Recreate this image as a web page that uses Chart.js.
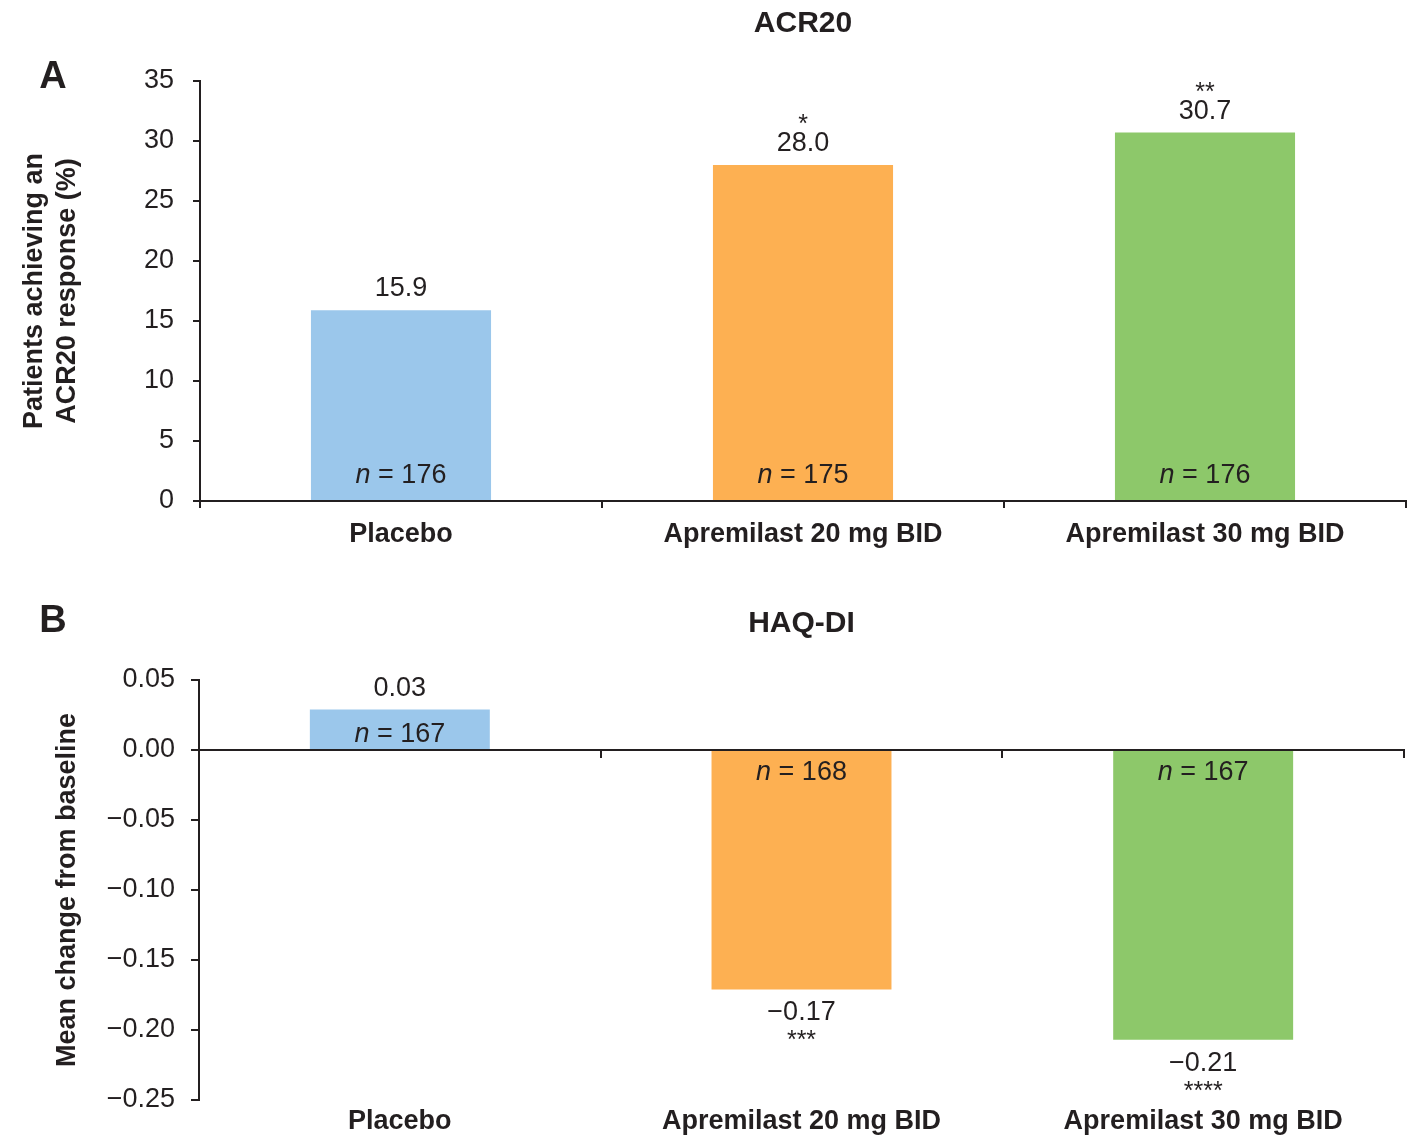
<!DOCTYPE html>
<html>
<head>
<meta charset="utf-8">
<script src="https://cdn.jsdelivr.net/npm/chart.js@4.4.1/dist/chart.umd.min.js"></script>
<style>
html,body{margin:0;padding:0;background:#ffffff;}
#wrap{position:relative;width:1422px;height:1136px;overflow:hidden;}
canvas{position:absolute;left:0;display:block;}
#c1{top:0;}
#c2{top:560px;}
</style>
</head>
<body>
<div id="wrap">
<canvas id="c1" width="1422" height="560"></canvas>
<canvas id="c2" width="1422" height="576"></canvas>
</div>
<script>
// ---- data ----
const categories = ['Placebo', 'Apremilast 20 mg BID', 'Apremilast 30 mg BID'];
const barColors = ['#9BC7EB', '#FDB052', '#8DC86A'];

const acrValues = [15.9, 28.0, 30.7];
const acrLabels = ['15.9', '28.0', '30.7'];
const acrStars = ['', '*', '**'];
const acrN = [176, 175, 176];

const haqValues = [0.029, -0.171, -0.207];
const haqLabels = ['0.03', '\u22120.17', '\u22120.21'];
const haqStars = ['', '***', '****'];
const haqN = [167, 168, 167];

// ---- style ----
const FAM = '"Liberation Sans", Arial, Helvetica, sans-serif';
const INK = '#231F20';

function drawN(ctx, cx, baseline, n) {
  const f1 = 'italic 27px ' + FAM, f2 = '27px ' + FAM;
  ctx.font = f1; const w1 = ctx.measureText('n').width;
  const rest = ' = ' + n;
  ctx.font = f2; const w2 = ctx.measureText(rest).width;
  const x = cx - (w1 + w2) / 2;
  ctx.textAlign = 'left';
  ctx.textBaseline = 'alphabetic';
  ctx.fillStyle = INK;
  ctx.font = f1; ctx.fillText('n', x, baseline);
  ctx.font = f2; ctx.fillText(rest, x + w1, baseline);
}

function makeLabelPlugin(o) {
  return {
    id: 'barLabels_' + o.letter,
    afterDraw(chart) {
      const ctx = chart.ctx;
      const meta = chart.getDatasetMeta(0);
      const zero = chart.scales.y.getPixelForValue(0);
      ctx.save();
      ctx.fillStyle = INK;
      meta.data.forEach((bar, i) => {
        const v = o.values[i];
        const x = bar.x;
        ctx.textAlign = 'center';
        ctx.textBaseline = 'alphabetic';
        if (v >= 0) {
          const vb = bar.y - o.upGap;
          ctx.font = '27px ' + FAM;
          ctx.fillText(o.labels[i], x, vb);
          if (o.stars[i]) { ctx.font = '25px ' + FAM; ctx.fillText(o.stars[i], x, vb - 19); }
          drawN(ctx, x, zero - o.nUp, o.ns[i]);
        } else {
          const vb = bar.y + 31;
          ctx.font = '27px ' + FAM;
          ctx.fillText(o.labels[i], x, vb);
          if (o.stars[i]) { ctx.font = '25px ' + FAM; ctx.fillText(o.stars[i], x, vb + 28); }
          drawN(ctx, x, zero + 30, o.ns[i]);
        }
      });
      // panel letter
      ctx.font = 'bold 38px ' + FAM;
      ctx.textAlign = 'center';
      ctx.textBaseline = 'alphabetic';
      ctx.fillText(o.letter, 53, o.letterY);
      ctx.restore();
    }
  };
}

const tickFont = { family: FAM, size: 27 };
const catFont = { family: FAM, size: 27, weight: 'bold' };

// ---- Panel A ----
new Chart(document.getElementById('c1'), {
  type: 'bar',
  data: {
    labels: categories,
    datasets: [{ data: acrValues, backgroundColor: barColors, borderWidth: 0, barPercentage: 0.448, categoryPercentage: 1 }]
  },
  options: {
    responsive: false, animation: false, devicePixelRatio: 1,
    layout: { padding: { left: 0, right: 16, top: 0, bottom: 0 } },
    plugins: {
      legend: { display: false }, tooltip: { enabled: false },
      title: { display: true, fullSize: false, text: 'ACR20', color: INK, font: { family: FAM, size: 30, weight: 'bold', lineHeight: 1.2 }, padding: { top: 6, bottom: 39 } }
    },
    scales: {
      x: {
        position: 'bottom', offset: true,
        grid: { display: true, offset: true, drawOnChartArea: false, drawTicks: true, tickLength: 7, color: INK, lineWidth: 2, z: 1 },
        border: { display: true, color: INK, width: 2, z: 1 },
        ticks: { color: INK, font: catFont, padding: 10, maxRotation: 0, autoSkip: false },
        afterFit(s) { s.height = 59; }
      },
      y: {
        min: 0, max: 35,
        ticks: { stepSize: 5, color: INK, font: tickFont, padding: 19 },
        grid: { drawOnChartArea: false, tickLength: 7, color: INK, lineWidth: 2 },
        border: { color: INK, width: 2 },
        title: { display: true, text: ['Patients achieving an', 'ACR20 response (%)'], color: INK, font: { family: FAM, size: 27, weight: 'bold', lineHeight: 1.22 }, padding: { top: 18, bottom: 0 } },
        afterFit(s) { s.width = 200; }
      }
    }
  },
  plugins: [makeLabelPlugin({ letter: 'A', letterY: 88, values: acrValues, labels: acrLabels, stars: acrStars, ns: acrN, nUp: 18, upGap: 14 })]
});

// ---- Panel B ----
new Chart(document.getElementById('c2'), {
  type: 'bar',
  data: {
    labels: categories,
    datasets: [{ data: haqValues, backgroundColor: barColors, borderWidth: 0, barPercentage: 0.448, categoryPercentage: 1 }]
  },
  options: {
    responsive: false, animation: false, devicePixelRatio: 1,
    layout: { padding: { left: 0, right: 18, top: 0, bottom: 0 } },
    plugins: {
      legend: { display: false }, tooltip: { enabled: false },
      title: { display: true, fullSize: false, text: 'HAQ-DI', color: INK, font: { family: FAM, size: 30, weight: 'bold', lineHeight: 1.2 }, padding: { top: 46, bottom: 38 } }
    },
    scales: {
      x: {
        position: 'bottom', offset: true,
        grid: { display: false, drawTicks: false },
        border: { display: false },
        ticks: { color: INK, font: catFont, padding: 5, maxRotation: 0, autoSkip: false },
        afterFit(s) { s.height = 36; }
      },
      x0: {
        type: 'category', position: { y: 0 }, offset: true,
        grid: { display: true, offset: true, drawOnChartArea: false, drawTicks: true, tickLength: 7, color: INK, lineWidth: 2, z: 1 },
        border: { display: true, color: INK, width: 2, z: 1 },
        ticks: { display: false },
        afterFit(s) { s.height = 0; }
      },
      y: {
        min: -0.25, max: 0.05,
        ticks: {
          stepSize: 0.05, color: INK, font: tickFont, padding: 16,
          callback(v) {
            if (Math.abs(v) < 1e-9) return '0.00';
            const s = Math.abs(v).toFixed(2);
            return v < 0 ? '\u2212' + s : s;
          }
        },
        grid: { drawOnChartArea: false, tickLength: 8, color: INK, lineWidth: 2 },
        border: { color: INK, width: 2 },
        title: { display: true, text: 'Mean change from baseline', color: INK, font: { family: FAM, size: 27, weight: 'bold', lineHeight: 1.22 }, padding: { top: 51, bottom: 0 } },
        afterFit(s) { s.width = 199; }
      }
    }
  },
  plugins: [makeLabelPlugin({ letter: 'B', letterY: 72, values: haqValues, labels: haqLabels, stars: haqStars, ns: haqN, nUp: 8, upGap: 13 })]
});
</script>
</body>
</html>
